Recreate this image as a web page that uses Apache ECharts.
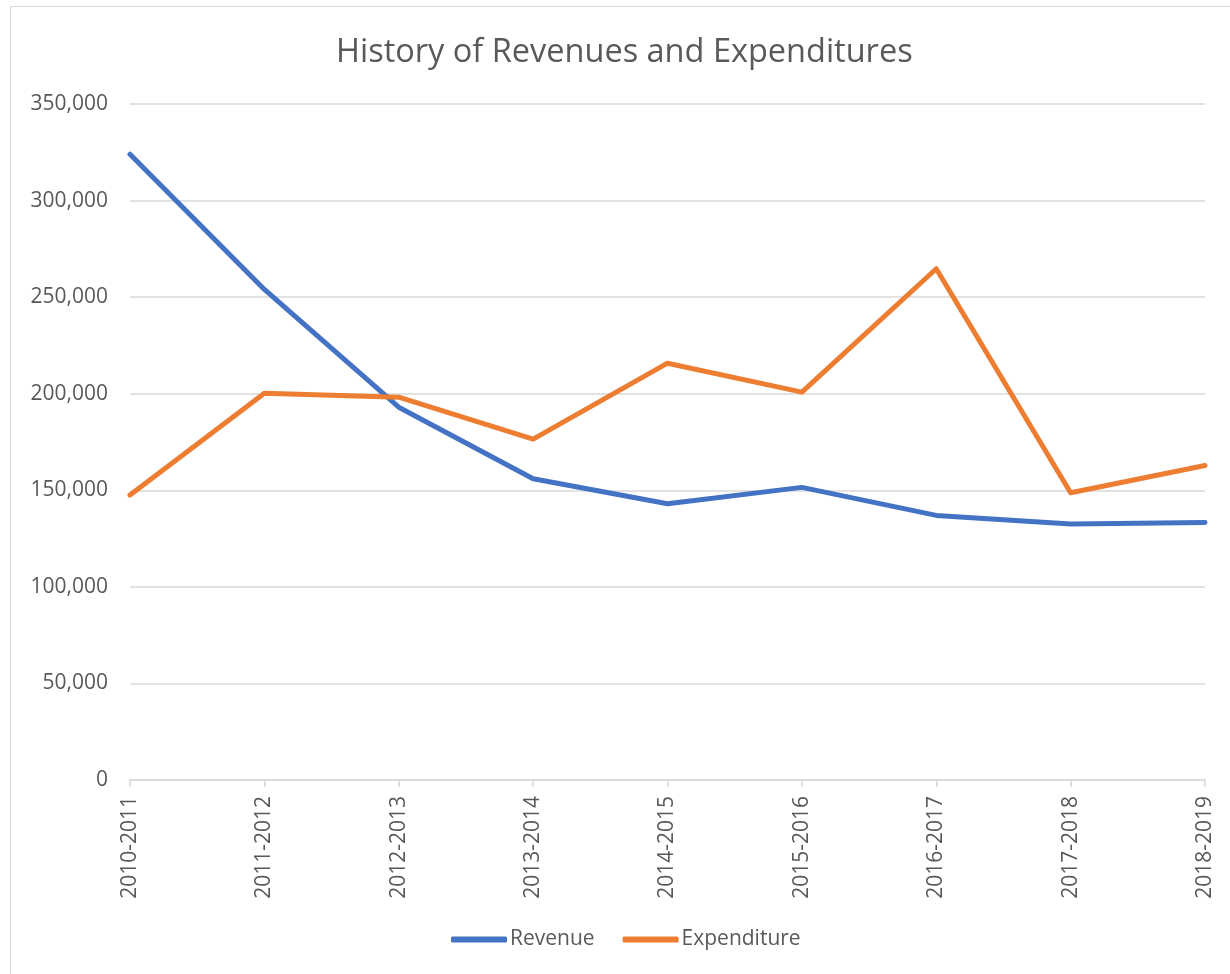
<!DOCTYPE html>
<html>
<head>
<meta charset="utf-8">
<title>History of Revenues and Expenditures</title>
<script src="https://cdn.jsdelivr.net/npm/echarts@6/dist/echarts.min.js"></script>
<style>
  html, body { margin: 0; padding: 0; background: #fff; }
  .frame {
    position: absolute; left: 10px; top: 6px;
    width: 1240px; height: 990px;
    border: 1px solid #d9d9d9;
  }
  #chart { position: absolute; left: 0; top: 0; width: 1230px; height: 974px; }
</style>
</head>
<body>
<div class="frame"></div>
<div id="chart"></div>
<script>
// fiscal years on the x axis
const years = [
  "2010-2011", "2011-2012", "2012-2013", "2013-2014", "2014-2015",
  "2015-2016", "2016-2017", "2017-2018", "2018-2019"
];
// values
const revenue = [324000, 254000, 193000, 156000, 143000, 151500, 137000, 132500, 133300];
const expenditure = [147500, 200300, 198200, 176500, 215800, 200800, 264700, 148700, 162800];

const textColor = "#595959";
const gridColor = "#d9d9d9";
const font = "'Open Sans', 'Noto Sans', sans-serif";

let myChart = echarts.init(document.getElementById("chart"));
let option = {
  backgroundColor: "transparent",
  textStyle: { fontFamily: font },
  title: {
    text: "History of Revenues and Expenditures",
    left: 331,
    top: 31,
    textStyle: {
      color: textColor,
      fontFamily: font,
      fontSize: 32.5,
      fontWeight: "normal"
    }
  },
  legend: {
    bottom: 19,
    left: 446,
    icon: "roundRect",
    itemWidth: 56,
    itemHeight: 6,
    itemGap: 28,
    textStyle: {
      color: textColor,
      fontFamily: font,
      fontSize: 21,
      padding: [0, 0, 0, -2]
    },
    data: ["Revenue", "Expenditure"]
  },
  grid: {
    left: 130,
    right: 25,
    top: 104,
    bottom: 194,
    containLabel: false
  },
  xAxis: {
    type: "category",
    boundaryGap: false,
    data: years,
    axisLine: { lineStyle: { color: gridColor, width: 1.5 } },
    axisTick: { show: true, length: 7, lineStyle: { color: gridColor, width: 1.5 } },
    axisLabel: {
      rotate: 90,
      margin: 16,
      color: textColor,
      fontFamily: font,
      fontSize: 21
    },
    splitLine: { show: false }
  },
  yAxis: {
    type: "value",
    min: 0,
    max: 350000,
    interval: 50000,
    axisLine: { show: false },
    axisTick: { show: false },
    axisLabel: {
      margin: 22,
      color: textColor,
      fontFamily: font,
      fontSize: 21,
      formatter: v => v.toLocaleString("en-US")
    },
    splitLine: { lineStyle: { color: gridColor, width: 1.5 } }
  },
  series: [
    {
      name: "Revenue",
      type: "line",
      data: revenue,
      showSymbol: false,
      symbol: "none",
      color: "#4472c4",
      lineStyle: { width: 5, color: "#4472c4", cap: "round", join: "round" }
    },
    {
      name: "Expenditure",
      type: "line",
      data: expenditure,
      showSymbol: false,
      symbol: "none",
      color: "#ed7d31",
      lineStyle: { width: 5, color: "#ed7d31", cap: "round", join: "round" }
    }
  ],
  animation: false
};
myChart.setOption(option);
window.addEventListener("resize", () => {
  myChart.resize();
});
</script>
</body>
</html>
